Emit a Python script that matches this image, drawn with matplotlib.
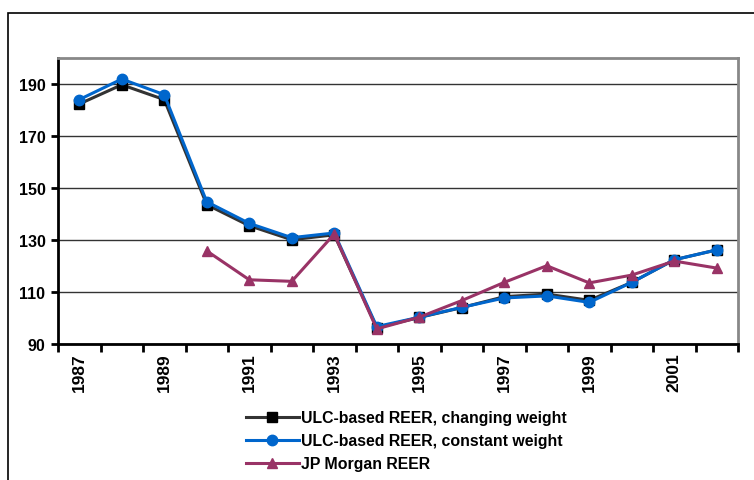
import numpy as np
import matplotlib.pyplot as plt
from matplotlib.patches import Rectangle

plt.rcParams['font.family'] = ['Liberation Sans', 'DejaVu Sans']
plt.rcParams['font.weight'] = 'bold'

years = [str(y) for y in range(1987, 2003)]
ulc_changing = [182.3, 189.7, 184.0, 143.6, 135.5, 130.1, 132.0, 96.3,
                100.2, 104.0, 108.2, 109.2, 106.8, 113.7, 122.4, 126.2]
ulc_constant = [184.0, 191.9, 185.9, 144.7, 136.4, 130.9, 132.7, 96.7,
                100.3, 104.1, 107.7, 108.5, 106.0, 113.7, 122.4, 126.2]
jpm_years = years[3:]
jpm_reer = [125.8, 114.7, 114.1, 132.3, 95.8, 100.3, 106.7, 113.7,
            120.1, 113.5, 116.5, 121.9, 119.2]

fig = plt.figure(figsize=(7.54, 4.81), dpi=100)
# outer frame of the chart area
fig.patches.append(Rectangle((8 / 754, -0.01), 1.0, 1 - 14 / 481 + 0.01,
                             transform=fig.transFigure, fill=False,
                             edgecolor='black', linewidth=1.2))

ax = fig.add_axes([58 / 754, 1 - 345 / 481, 680 / 754, 286 / 481])
x = np.arange(len(years))
xj = np.arange(3, len(years))

ax.plot(x, ulc_changing, color='#333333', lw=2.2, marker='s', ms=7,
        mfc='black', mec='black', label='ULC-based REER, changing weight')
ax.plot(x, ulc_constant, color='#0066CC', lw=2.2, marker='o', ms=7.5,
        mfc='#0066CC', mec='#0066CC', label='ULC-based REER, constant weight')
ax.plot(xj, jpm_reer, color='#993366', lw=2.2, marker='^', ms=7.5,
        mfc='#993366', mec='#993366', label='JP Morgan REER')

ax.set_xlim(-0.5, len(years) - 0.5)
ax.set_ylim(90, 200)
ax.set_yticks(range(90, 200, 20))
ax.yaxis.grid(True, color='#333333', lw=1)
ax.set_axisbelow(True)

ax.set_xticks(np.arange(-0.5, len(years)), minor=False)
ax.set_xticklabels([])
ax.set_xticks(x[::2], minor=True)
ax.set_xticklabels(years[::2], minor=True, rotation=90, fontsize=12.5,
                   fontweight='bold')
ax.tick_params(axis='x', which='minor', length=0, pad=6)
ax.tick_params(axis='x', which='major', length=6, width=2, direction='out')
ax.tick_params(axis='y', length=5, width=2, labelsize=11.5, pad=4)
for lab in ax.get_yticklabels():
    lab.set_fontweight('bold')

ax.spines['left'].set_linewidth(2)
ax.spines['bottom'].set_linewidth(2)
ax.spines['top'].set_color('#888888')
ax.spines['right'].set_color('#888888')
ax.spines['top'].set_linewidth(2)
ax.spines['right'].set_linewidth(2)

leg = fig.legend(loc='upper left', bbox_to_anchor=(240 / 754, 1 - 405 / 481),
                 frameon=False, fontsize=11.4, handlelength=3.3,
                 labelspacing=0.5, handletextpad=0.15, borderaxespad=0)
for t in leg.get_texts():
    t.set_fontweight('bold')

fig.savefig('out.png', dpi=100)
